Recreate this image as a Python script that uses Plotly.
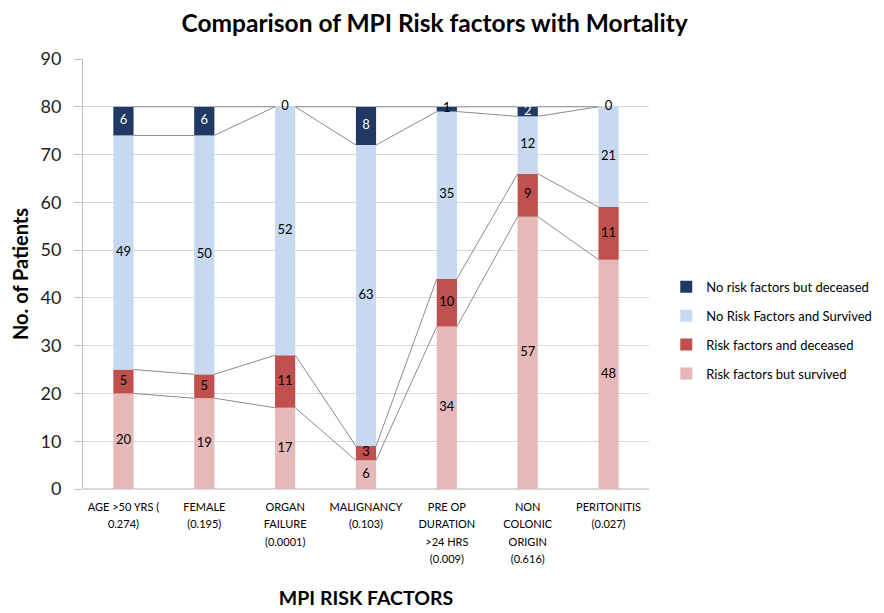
import plotly.graph_objects as go

categories = [["AGE >50 YRS (", "0.274)"], ["FEMALE", "(0.195)"], ["ORGAN", "FAILURE", "(0.0001)"],
              ["MALIGNANCY", "(0.103)"], ["PRE OP", "DURATION", ">24 HRS", "(0.009)"],
              ["NON", "COLONIC", "ORIGIN", "(0.616)"], ["PERITONITIS", "(0.027)"]]
risk_survived = [20, 19, 17, 6, 34, 57, 48]
risk_deceased = [5, 5, 11, 3, 10, 9, 11]
norisk_survived = [49, 50, 52, 63, 35, 12, 21]
norisk_deceased = [6, 6, 0, 8, 1, 2, 0]

series = [
    ("Risk factors but survived", risk_survived, "#E6B9B8"),
    ("Risk factors and deceased", risk_deceased, "#C0504D"),
    ("No Risk Factors and Survived", norisk_survived, "#C6D9F1"),
    ("No risk factors but deceased", norisk_deceased, "#1F3864"),
]

FONT = "Lato, 'Open Sans', sans-serif"
BW = 0.25
xs = list(range(len(categories)))
ticktext = ["<br>".join("<span style='font-size:11px'>%s</span>" % ln for ln in lines)
            for lines in categories]
fig = go.Figure()

base = [0] * len(xs)
for k, (name, vals, col) in enumerate(series):
    fig.add_trace(go.Bar(x=xs, y=vals, base=base, name=name,
                         marker=dict(color=col, line=dict(width=0)),
                         width=BW, hoverinfo="name+y", legendgroup="g%d" % k,
                         legendrank=100 - k))
    top = [b + v for b, v in zip(base, vals)]
    lx, ly = [], []
    for i in range(len(xs) - 1):
        lx += [xs[i] + BW / 2, xs[i + 1] - BW / 2, None]
        ly += [top[i], top[i + 1], None]
    fig.add_trace(go.Scatter(x=lx, y=ly, mode="lines", line=dict(color="#8C8C8C", width=1),
                             showlegend=False, hoverinfo="skip"))
    dark = col == "#1F3864"
    mids = [b + v / 2 for b, v in zip(base, vals)]
    colors = ["white" if (dark and v >= 2) else "black" for v in vals]
    fig.add_trace(go.Scatter(x=xs, y=mids, mode="text", text=[str(v) for v in vals],
                             textposition="middle center",
                             textfont=dict(family=FONT, size=13, color=colors),
                             showlegend=False, hoverinfo="skip"))
    base = top

fig.update_layout(
    barmode="overlay",
    width=876, height=605,
    margin=dict(l=75, r=235, t=51, b=124, autoexpand=False),
    paper_bgcolor="white", plot_bgcolor="white",
    font=dict(family=FONT, color="black"),
    title=dict(text="<b>Comparison of MPI Risk factors with Mortality</b>",
               x=0.487, xanchor="center", y=0.975, yanchor="middle",
               font=dict(size=24.5, family=FONT, color="black")),
    legend=dict(x=1.0305, xanchor="left", y=0.369, yanchor="middle",
                traceorder="grouped",
                font=dict(size=13, family=FONT), tracegroupgap=9, itemwidth=30,
                bgcolor="rgba(0,0,0,0)"),
    xaxis=dict(tickvals=xs, ticktext=ticktext, range=[-0.5, len(xs) - 0.5],
               tickfont=dict(size=13.5, family=FONT), showgrid=False, zeroline=False,
               showline=False, ticks="", ticklabelstandoff=7, automargin=False,
               title=dict(text="<b>MPI RISK FACTORS</b>", font=dict(size=19.5, family=FONT),
                          standoff=27)),
    yaxis=dict(range=[0, 90], dtick=10, tickfont=dict(size=18, family=FONT, color="#222"),
               showgrid=True, gridcolor="#D9D9D9", gridwidth=1, zeroline=True,
               zerolinecolor="#D9D9D9", showline=True, linecolor="#BFBFBF",
               ticks="outside", ticklen=8, tickcolor="#BFBFBF", ticklabelstandoff=9,
               automargin=False,
               title=dict(text="<b>No. of Patients</b>", font=dict(size=20, family=FONT),
                          standoff=9)),
)

fig.write_html("out.html")
